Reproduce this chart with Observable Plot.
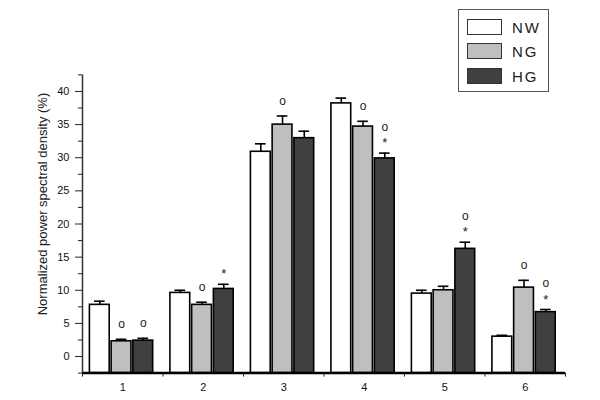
<!DOCTYPE html>
<html>
<head>
<meta charset="utf-8">
<script src="https://cdn.jsdelivr.net/npm/d3@7"></script>
<script src="https://cdn.jsdelivr.net/npm/@observablehq/plot@0.6"></script>
<style>
  html, body { margin: 0; padding: 0; background: #fff; }
  #wrap { position: relative; width: 600px; height: 400px; font-family: "Liberation Sans", Arial, sans-serif; }
  #legend { position: absolute; left: 458px; top: 9px; width: 89px; height: 81px; border: 1px solid #555; background: #fff; }
  .row { position: absolute; left: 8px; height: 16px; display: flex; align-items: center; }
  .sw { width: 33px; height: 14px; border: 1.5px solid #333; }
  .lab { margin-left: 10px; font-size: 15px; letter-spacing: 2px; color: #222; }
</style>
</head>
<body>
<div id="wrap"></div>
<script>
// ---- data ----
const groups = [1, 2, 3, 4, 5, 6];
const series = ["NW", "NG", "HG"];
const fills = ["#ffffff", "#bfbfbf", "#404040"];
const NW = [7.8, 9.6, 30.9, 38.2, 9.5, 3.0];
const NG = [2.3, 7.8, 35.0, 34.7, 10.0, 10.4];
const HG = [2.4, 10.2, 32.95, 29.9, 16.25, 6.7];
const errNW = [0.55, 0.4, 1.2, 0.8, 0.5, 0.2];
const errNG = [0.3, 0.4, 1.3, 0.8, 0.6, 1.1];
const errHG = [0.35, 0.7, 1.05, 0.8, 1.0, 0.4];
const sigNW = ["", "", "", "", "", ""];
const sigNG = ["o", "o", "o", "o", "", "o"];
const sigHG = ["o", "*", "", "o*", "o*", "o*"];
const yTicks = [0, 5, 10, 15, 20, 25, 30, 35, 40];
const yMinor = [-2.5, 2.5, 7.5, 12.5, 17.5, 22.5, 27.5, 32.5, 37.5, 42.5];
const xBounds = [0.5, 1.5, 2.5, 3.5, 4.5, 5.5, 6.5];
const yDomain = [-2.5, 42.5];
const yLabel = "Normalized power spectral density (%)";

// ---- table ----
const vals = [NW, NG, HG], errs = [errNW, errNG, errHG], sigs = [sigNW, sigNG, sigHG];
const rows = [];
groups.forEach((g, gi) => series.forEach((s, si) => {
  rows.push({group: g, series: s, si, value: vals[si][gi], hi: vals[si][gi] + errs[si][gi], sig: sigs[si][gi]});
}));
const step = 0.27, half = 0.123, cap = 0.066;
const cx = d => d.group + (d.si - 1) * step - 0.015;

const plot = Plot.plot({
  width: 600, height: 400,
  marginLeft: 82, marginRight: 35, marginTop: 74.4, marginBottom: 27.4,
  x: {domain: [xBounds[0], xBounds[xBounds.length - 1]], axis: null},
  y: {domain: yDomain, axis: null},
  color: {domain: series, range: fills},
  style: {fontFamily: "Liberation Sans, Arial, sans-serif", background: "white", color: "#111"},
  marks: [
    Plot.rect(rows, {x1: d => cx(d) - half, x2: d => cx(d) + half, y1: yDomain[0], y2: "value", fill: "series", stroke: "#000", strokeWidth: 1.6}),
    Plot.ruleX(rows, {x: cx, y1: "value", y2: "hi", stroke: "#000", strokeWidth: 1.6}),
    Plot.ruleY(rows, {y: "hi", x1: d => cx(d) - cap, x2: d => cx(d) + cap, stroke: "#000", strokeWidth: 1.6}),
    Plot.text(rows.filter(d => d.sig.includes("*")), {x: cx, y: "hi", text: () => "*", dy: -10, fontSize: 13, lineAnchor: "middle", fill: "#222"}),
    Plot.text(rows.filter(d => d.sig === "o"), {x: cx, y: "hi", text: () => "o", dy: -15, fontSize: 12, lineAnchor: "middle", fill: "#222"}),
    Plot.text(rows.filter(d => d.sig === "o*"), {x: cx, y: "hi", text: () => "o", dy: -26, fontSize: 12, lineAnchor: "middle", fill: "#222"}),
    Plot.axisY({ticks: yTicks, tickSize: 7, tickPadding: 6, fontSize: 11, label: null, stroke: "#222"}),
    Plot.axisY({ticks: yMinor, tickSize: 4, tickFormat: () => "", label: null, stroke: "#222"}),
    Plot.axisX({ticks: xBounds, tickSize: 4, tickFormat: () => "", label: null, stroke: "#222"}),
    Plot.axisX({ticks: groups, tickSize: 0, tickPadding: 10, fontSize: 11, tickFormat: d => String(d), label: null}),
    Plot.ruleX([xBounds[0]], {stroke: "#333", strokeWidth: 1.5}),
    Plot.ruleY([yDomain[0]], {stroke: "#000", strokeWidth: 2.5}),
    Plot.text([yLabel], {frameAnchor: "left", textAnchor: "middle", rotate: -90, dx: -40, dy: -20, fontSize: 13, fill: "#222"})
  ]
});
const wrap = document.getElementById("wrap");
wrap.appendChild(plot);

// legend
const leg = document.createElement("div");
leg.id = "legend";
const tops = [9, 33, 58];
series.forEach((s, i) => {
  const r = document.createElement("div");
  r.className = "row";
  r.style.top = tops[i] + "px";
  r.innerHTML = `<div class="sw" style="background:${fills[i]}"></div><span class="lab">${s}</span>`;
  leg.appendChild(r);
});
wrap.appendChild(leg);
</script>
</body>
</html>
